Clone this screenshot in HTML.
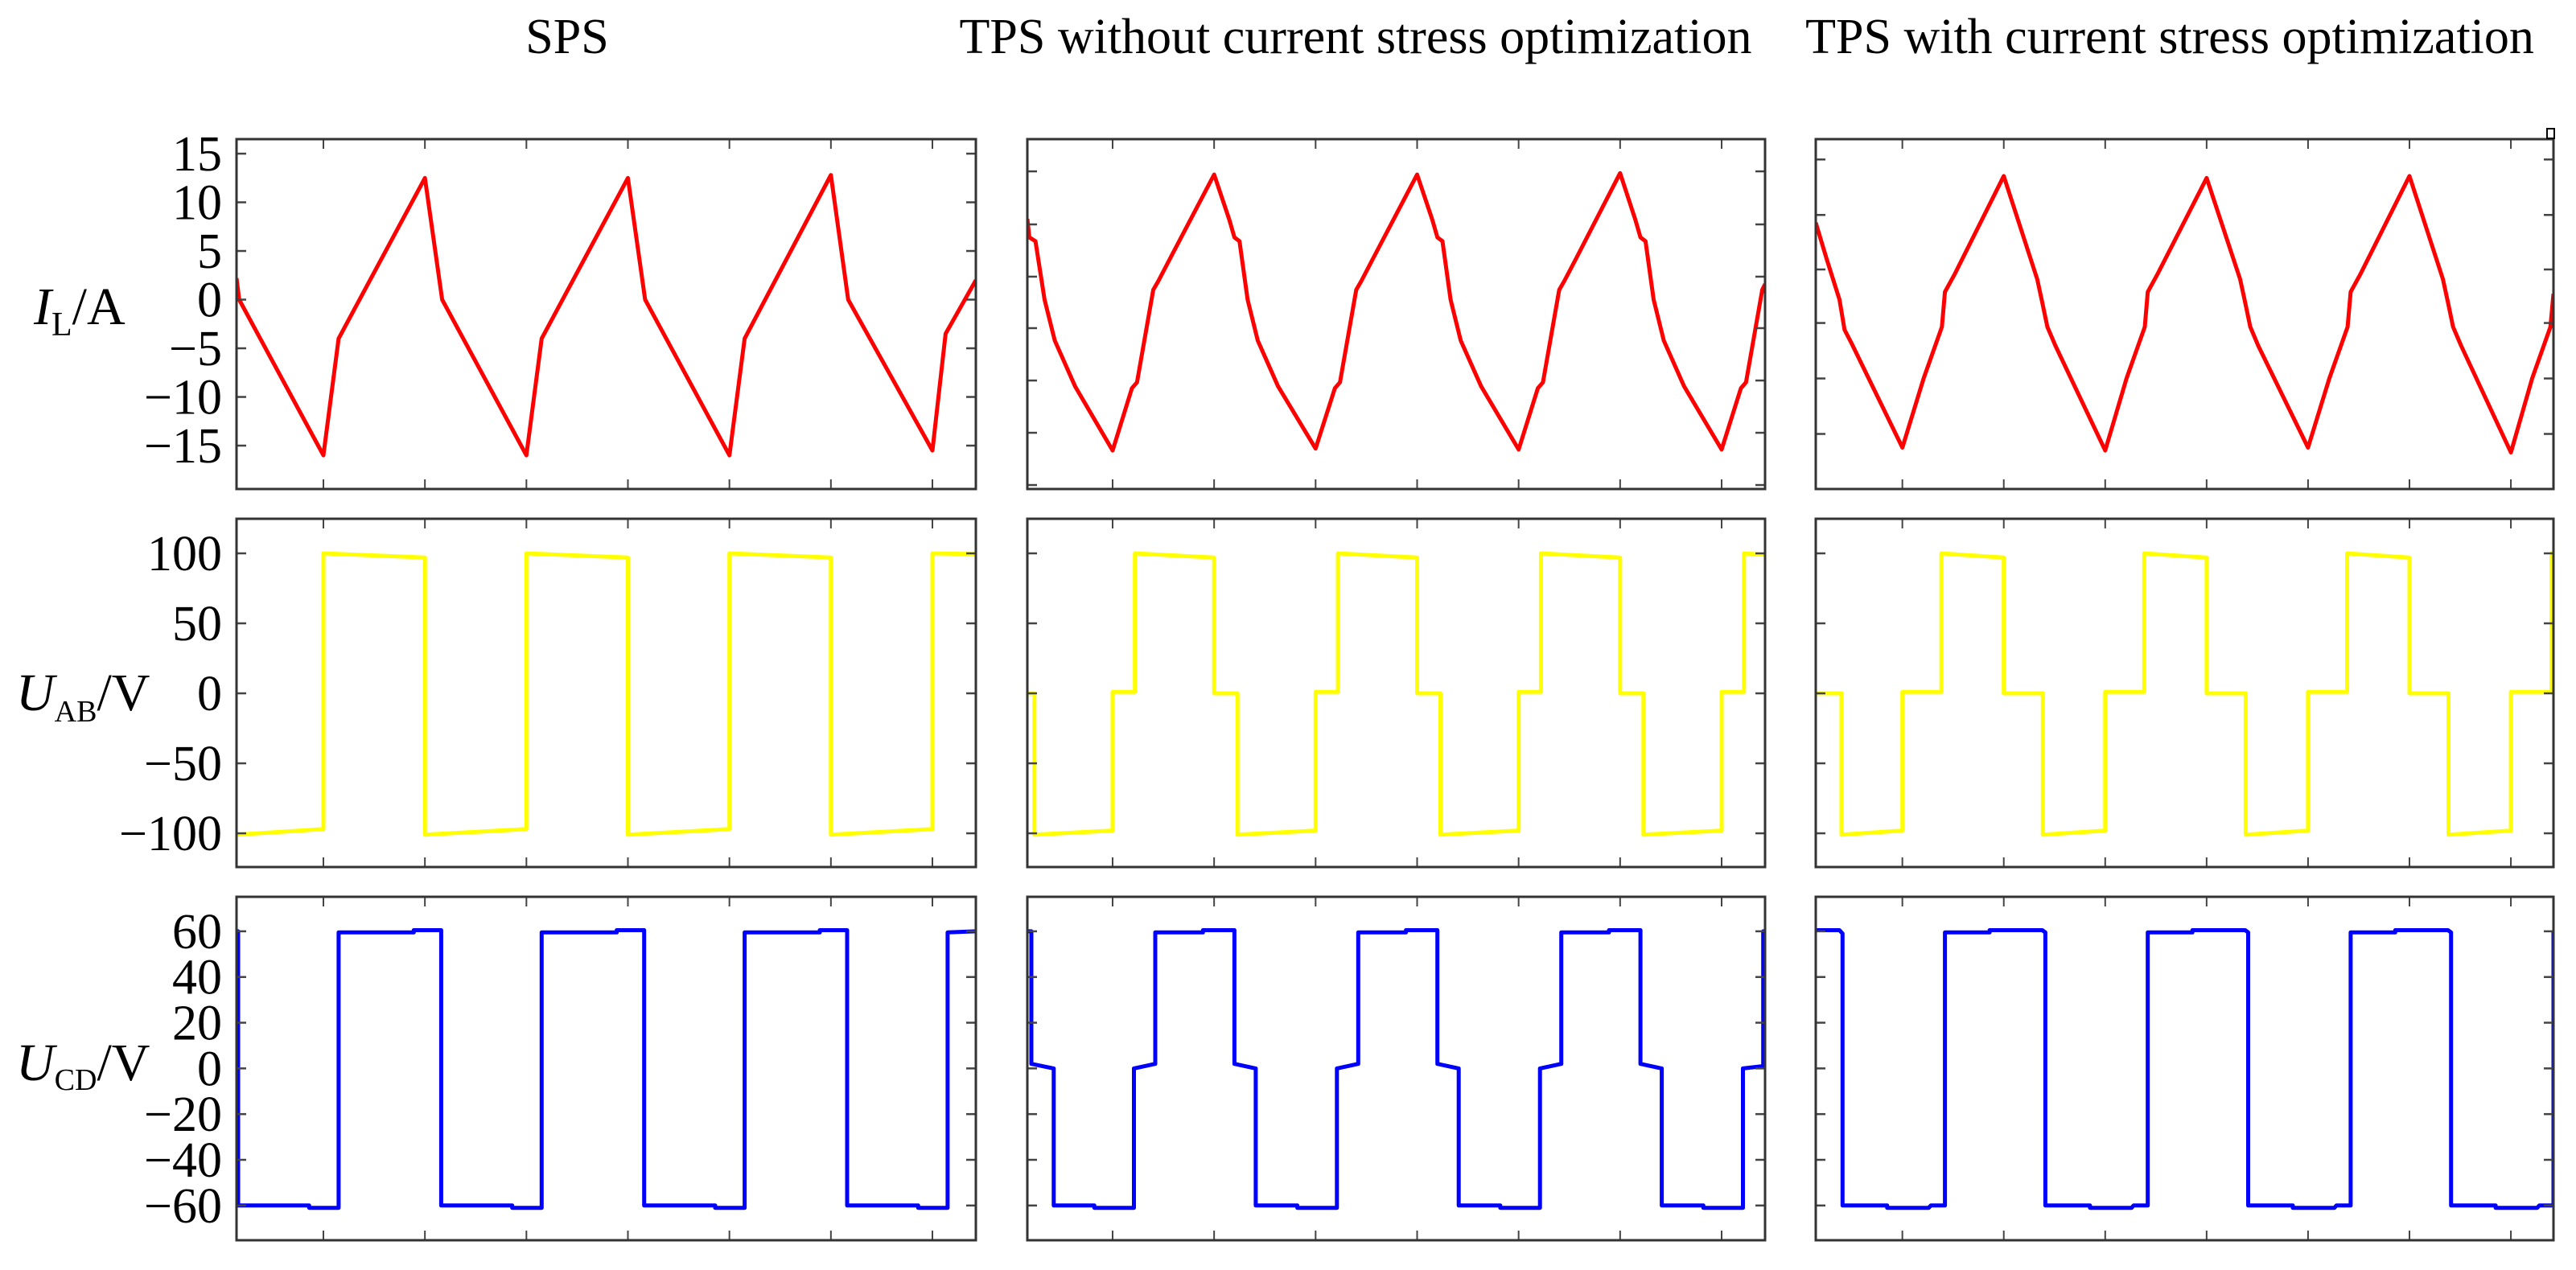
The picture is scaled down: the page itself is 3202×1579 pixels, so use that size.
<!DOCTYPE html>
<html><head><meta charset="utf-8">
<style>
html,body{margin:0;padding:0;background:#fff;}
svg{display:block;}
text{font-family:"Liberation Serif","Times New Roman",serif;fill:#000;}
</style></head>
<body>
<svg id="chart" width="3202" height="1579" viewBox="0 0 3202 1579" xmlns="http://www.w3.org/2000/svg">
  <text x="705" y="66" font-size="62" text-anchor="middle">SPS</text>
  <text x="1685" y="66" font-size="62" text-anchor="middle">TPS without current stress optimization</text>
  <text x="2697" y="66" font-size="62" text-anchor="middle">TPS with current stress optimization</text>

  <text x="42" y="403" font-size="66"><tspan font-style="italic">I</tspan><tspan font-size="42" dy="14">L</tspan><tspan dy="-14">/A</tspan></text>
  <text x="20" y="883" font-size="66"><tspan font-style="italic">U</tspan><tspan font-size="38" dy="14">AB</tspan><tspan dy="-14">/V</tspan></text>
  <text x="20" y="1343" font-size="66"><tspan font-style="italic">U</tspan><tspan font-size="38" dy="12">CD</tspan><tspan dy="-12">/V</tspan></text>
  <g id="plots"></g>
</svg>
<script>
// ---------- DATA (time in switching-tick units, values in A / V) ----------
const xTicks = [0,1,2,3,4,5,6];
const ilTicks = [15,10,5,0,-5,-10,-15];
const ilTickLabels = ["15","10","5","0","\u22125","\u221210","\u221215"];
const ilTicksTps1 = [13.18,7.73,2.36,-2.93,-8.31,-13.68,-19.05];
const ilTicksTps2 = [14.4,8.7,3.1,-2.4,-8.1,-13.8];
const uabTicks = [100,50,0,-50,-100];
const uabTickLabels = ["100","50","0","\u221250","\u2212100"];
const ucdTicks = [60,40,20,0,-20,-40,-60];
const ucdTickLabels = ["60","40","20","0","\u221220","\u221240","\u221260"];

const ilSps = [[-0.856,2.2],[-0.83,0],[0,-16],[0.15,-4],[1,12.5],[1.17,0],[2,-16],[2.15,-4],[3,12.5],[3.17,0],[4,-16],[4.15,-4],[5,12.8],[5.17,0],[6,-15.5],[6.13,-3.5],[6.428,2]];
const ilTps1 = [[-0.84,8.3],[-0.82,6.4],[-0.76,6.0],[-0.67,0],[-0.57,-4.2],[-0.37,-8.9],[0,-15.5],
 [0.19,-9.1],[0.24,-8.5],[0.40,1.0],[0.45,1.9],[0.57,4.3],[1,12.85],[1.15,8.2],[1.2,6.4],[1.25,6.0],[1.33,0],[1.43,-4.2],[1.63,-8.9],[2,-15.3],
 [2.19,-9.1],[2.24,-8.5],[2.40,1.0],[2.45,1.9],[2.57,4.3],[3,12.85],[3.15,8.2],[3.2,6.4],[3.25,6.0],[3.33,0],[3.43,-4.2],[3.63,-8.9],[4,-15.4],
 [4.19,-9.1],[4.24,-8.5],[4.40,1.0],[4.45,1.9],[4.57,4.3],[5,13.0],[5.15,8.2],[5.2,6.4],[5.25,6.0],[5.33,0],[5.43,-4.2],[5.63,-8.9],[6,-15.4],
 [6.19,-9.1],[6.24,-8.5],[6.40,1.0],[6.428,1.6]];
const ilTps2 = [[-0.854,7.9],[-0.75,4.3],[-0.62,0],[-0.57,-3.1],[-0.5,-4.5],[0,-15.2],
 [0.21,-8.1],[0.39,-2.8],[0.42,0.8],[0.52,2.7],[1,12.7],[1.33,2.1],[1.38,-0.3],[1.43,-2.8],[1.51,-4.75],[2,-15.5],
 [2.21,-8.1],[2.39,-2.8],[2.42,0.8],[2.52,2.7],[3,12.5],[3.33,2.1],[3.38,-0.3],[3.43,-2.8],[3.51,-4.75],[4,-15.2],
 [4.21,-8.1],[4.39,-2.8],[4.42,0.8],[4.52,2.7],[5,12.7],[5.33,2.1],[5.38,-0.3],[5.43,-2.8],[5.51,-4.75],[6,-15.7],
 [6.21,-8.1],[6.39,-2.8],[6.42,0.6]];

const uabSps = [[-0.856,-101],[0,-97],[0,100],[1,97],[1,-101],[2,-97],[2,100],[3,97],[3,-101],[4,-97],[4,100],[5,97],[5,-101],[6,-97],[6,100],[6.428,99.5]];
const uabTps1 = [[-0.84,0],[-0.77,0],[-0.77,-101],[0,-98],[0,1],[0.22,1],[0.22,100],[1,97],[1,0],[1.23,0],[1.23,-101],[2,-98],[2,1],[2.22,1],[2.22,100],[3,97],[3,0],[3.23,0],[3.23,-101],[4,-98],[4,1],[4.22,1],[4.22,100],[5,97],[5,0],[5.23,0],[5.23,-101],[6,-98],[6,1],[6.22,1],[6.22,100],[6.428,99]];
const uabTps2 = [[-0.854,0],[-0.6,0],[-0.6,-101],[0,-98],[0,1],[0.385,1],[0.385,100],[1,97],[1,0],[1.385,0],[1.385,-101],[2,-98],[2,1],[2.385,1],[2.385,100],[3,97],[3,0],[3.385,0],[3.385,-101],[4,-98],[4,1],[4.385,1],[4.385,100],[5,97],[5,0],[5.385,0],[5.385,-101],[6,-98],[6,1],[6.4,1],[6.4,100],[6.42,100]];

const ucdSps = [[-0.856,60],[-0.84,60],[-0.84,-60],[-0.14,-60],[-0.14,-61],[0.15,-61],[0.15,59.5],[0.89,59.5],[0.89,60.5],[1.16,60.5],[1.16,-60],
 [1.86,-60],[1.86,-61],[2.15,-61],[2.15,59.5],[2.89,59.5],[2.89,60.5],[3.16,60.5],[3.16,-60],
 [3.86,-60],[3.86,-61],[4.15,-61],[4.15,59.5],[4.89,59.5],[4.89,60.5],[5.16,60.5],[5.16,-60],
 [5.86,-60],[5.86,-61],[6.15,-61],[6.15,59.5],[6.428,60]];
const ucdTps1 = [[-0.84,60],[-0.8,60],[-0.8,2],[-0.58,0],[-0.58,-60],[-0.18,-60],[-0.18,-61],[0.21,-61],[0.21,0],[0.42,2],[0.42,59.5],[0.89,59.5],[0.89,60.5],[1.2,60.5],[1.2,2],[1.41,0],[1.41,-60],
 [1.82,-60],[1.82,-61],[2.21,-61],[2.21,0],[2.42,2],[2.42,59.5],[2.89,59.5],[2.89,60.5],[3.2,60.5],[3.2,2],[3.41,0],[3.41,-60],
 [3.82,-60],[3.82,-61],[4.21,-61],[4.21,0],[4.42,2],[4.42,59.5],[4.89,59.5],[4.89,60.5],[5.2,60.5],[5.2,2],[5.41,0],[5.41,-60],
 [5.82,-60],[5.82,-61],[6.21,-61],[6.21,0],[6.41,1],[6.41,60],[6.428,60]];
const ucdTps2 = [[-0.854,60.5],[-0.62,60.5],[-0.59,59],[-0.59,-60],[-0.15,-60],[-0.15,-61],[0.26,-61],[0.28,-60],[0.42,-60],[0.42,59.5],[0.86,59.5],[0.86,60.5],[1.38,60.5],[1.41,59.5],[1.41,-60],
 [1.85,-60],[1.85,-61],[2.26,-61],[2.28,-60],[2.42,-60],[2.42,59.5],[2.86,59.5],[2.86,60.5],[3.38,60.5],[3.41,59.5],[3.41,-60],
 [3.85,-60],[3.85,-61],[4.26,-61],[4.28,-60],[4.42,-60],[4.42,59.5],[4.86,59.5],[4.86,60.5],[5.38,60.5],[5.41,59.5],[5.41,-60],
 [5.85,-60],[5.85,-61],[6.26,-61],[6.28,-60],[6.42,-60],[6.42,60]];

// ---------- LAYOUT ----------
const cols = [
  {x0:294, x1:1213, t0:-0.856, t1:6.428, key:'sps'},
  {x0:1277, x1:2194, t0:-0.840, t1:6.428, key:'tps1'},
  {x0:2257, x1:3174, t0:-0.854, t1:6.420, key:'tps2'}
];
const rows = [
  {y0:173, y1:608, v0:16.49, v1:-19.46, color:'#ff0000', name:'il',
   series:[ilSps,ilTps1,ilTps2], ticks:[ilTicks,ilTicksTps1,ilTicksTps2], labels:ilTickLabels, labelTicks:ilTicks},
  {y0:645, y1:1078, v0:124.7, v1:-124.1, color:'#ffff00', name:'uab',
   series:[uabSps,uabTps1,uabTps2], ticks:[uabTicks,uabTicks,uabTicks], labels:uabTickLabels, labelTicks:uabTicks},
  {y0:1115, y1:1542, v0:75.1, v1:-75.2, color:'#0000ff', name:'ucd',
   series:[ucdSps,ucdTps1,ucdTps2], ticks:[ucdTicks,ucdTicks,ucdTicks], labels:ucdTickLabels, labelTicks:ucdTicks}
];
const NS='http://www.w3.org/2000/svg';
const g=document.getElementById('plots');
function mk(tag,attrs,parent){const e=document.createElementNS(NS,tag);for(const k in attrs)e.setAttribute(k,attrs[k]);(parent||g).appendChild(e);return e;}

rows.forEach((r,ri)=>{
  cols.forEach((c,ci)=>{
    const sx=t=>c.x0+(t-c.t0)/(c.t1-c.t0)*(c.x1-c.x0);
    const sy=v=>r.y0+(r.v0-v)/(r.v0-r.v1)*(r.y1-r.y0);
    const pg=mk('g',{});
    
    
    const d=r.series[ci].map((p,i)=>(i?'L':'M')+sx(p[0]).toFixed(1)+','+sy(p[1]).toFixed(1)).join(' ');
    const clip=mk('clipPath',{id:'clip'+ri+ci},pg);
    mk('rect',{x:c.x0,y:r.y0,width:c.x1-c.x0,height:r.y1-r.y0},clip);
    const path=mk('path',{d:d,fill:'none',stroke:r.color,'stroke-width':5,'stroke-linejoin':'round','clip-path':'url(#clip'+ri+ci+')'},pg);
    
    
    xTicks.forEach(t=>{
      const x=sx(t);
      mk('line',{x1:x,x2:x,y1:r.y0,y2:r.y0+12,stroke:'#444','stroke-width':2},pg);
      mk('line',{x1:x,x2:x,y1:r.y1,y2:r.y1-12,stroke:'#444','stroke-width':2},pg);
    });
    r.ticks[ci].forEach(v=>{
      const y=sy(v);
      mk('line',{x1:c.x0,x2:c.x0+12,y1:y,y2:y,stroke:'#444','stroke-width':2.5},pg);
      mk('line',{x1:c.x1,x2:c.x1-12,y1:y,y2:y,stroke:'#444','stroke-width':2.5},pg);
    });
    const fr=mk('rect',{x:c.x0,y:r.y0,width:c.x1-c.x0,height:r.y1-r.y0,fill:'none',stroke:'#333','stroke-width':3},pg);
    
    
    if(ci===0){
      r.labelTicks.forEach((v,i)=>{
        const tx=mk('text',{x:276,y:(sy(v)+21).toFixed(1),'font-size':62,'text-anchor':'end'},pg);
        
        
        tx.textContent=r.labels[i];
      });
    }
  });
});
const mb=mk('rect',{x:3166,y:160,width:9,height:12,fill:'none',stroke:'#000','stroke-width':2});


</script>
</body></html>
